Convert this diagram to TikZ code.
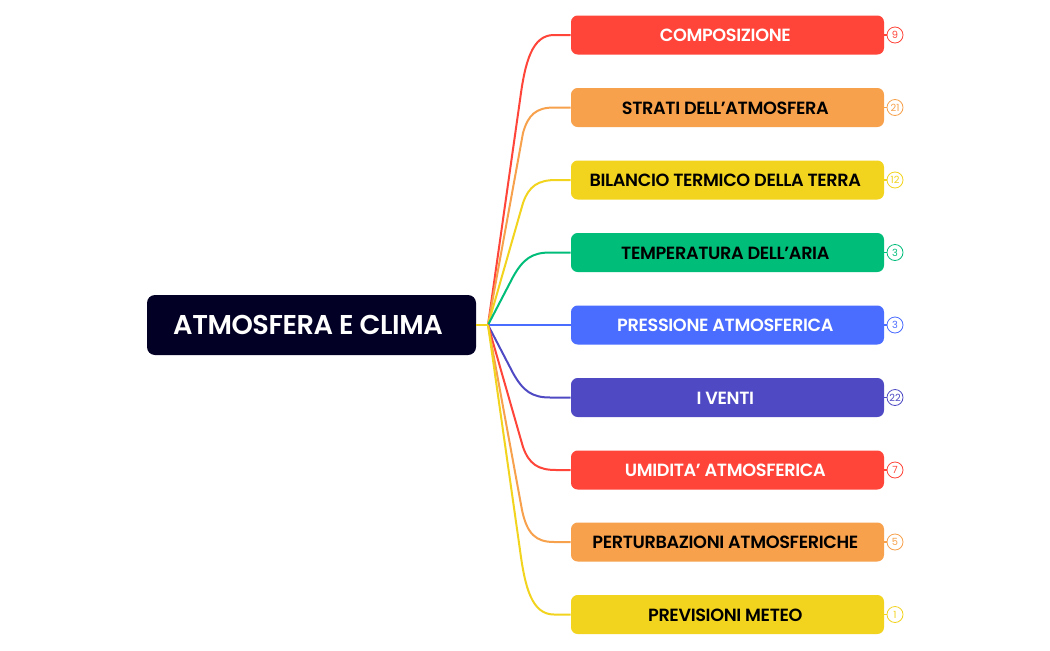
\documentclass[tikz,border=0pt]{standalone}
\usepackage{fontspec}
\setmainfont{Poppins}
\newfontfamily\semi{Poppins SemiBold}[LetterSpace=-2]
\newfontfamily\semiroot{Poppins SemiBold}[LetterSpace=-1.6]
\definecolor{cRed}{HTML}{FF453A}
\definecolor{cOrange}{HTML}{F7A14C}
\definecolor{cYellow}{HTML}{F2D41F}
\definecolor{cGreen}{HTML}{00BD7A}
\definecolor{cBlue}{HTML}{4A6CFF}
\definecolor{cIndigo}{HTML}{4F4AC4}
\definecolor{cDark}{HTML}{020024}
\tikzset{
  x=0.75pt,y=-0.75pt,
  rootbox/.style={fill=cDark,rounded corners=6pt,minimum width=246.75pt,minimum height=45pt,inner sep=0pt},
  topicbox/.style={rounded corners=5pt,minimum width=234.75pt,minimum height=29.25pt,inner sep=0pt},
  badge/.style={draw,circle,fill=white,line width=0.6pt,minimum size=12pt,inner sep=0pt,font=\fontsize{7.4pt}{8pt}\selectfont},
  link/.style={line width=1.5pt},
}
\newcommand{\topic}[6]{% name, y, colour, text colour, label, count
  \node[topicbox,fill=#3] (#1) at (727.5,#2) {};
  \node[text=#4,inner sep=0pt,anchor=center,font=\semi\fontsize{13.25pt}{15pt}\selectfont] (#1t) at (725.3,#2+0.5) {#5};
  \node[badge,draw=#3,text=#3] (#1c) at (895,#2) {#6};
  \draw[#3,line width=1pt] (#1.east) -- (#1c.west);
}
\begin{document}
\begin{tikzpicture}
\useasboundingbox (0,0) rectangle (1050,650);
\fill[white] (0,0) rectangle (1050,650);
\node[rootbox] (root) at (311.5,325) {};
\node[text=white,inner sep=0pt,font=\semiroot\fontsize{20.4pt}{22pt}\selectfont] (roott) at (308,325) {ATMOSFERA E CLIMA};
\coordinate (hub) at (488,325);
\topic{a}{35}{cRed}{white}{COMPOSIZIONE}{9}
\topic{b}{107.5}{cOrange}{black}{STRATI DELL’ATMOSFERA}{21}
\topic{c}{180}{cYellow}{black}{BILANCIO TERMICO DELLA TERRA}{12}
\topic{d}{252.5}{cGreen}{black}{TEMPERATURA DELL’ARIA}{3}
\topic{e}{325}{cBlue}{white}{PRESSIONE ATMOSFERICA}{3}
\topic{f}{397.5}{cIndigo}{white}{I VENTI}{22}
\topic{g}{470}{cRed}{white}{UMIDITA’ ATMOSFERICA}{7}
\topic{h}{542}{cOrange}{black}{PERTURBAZIONI ATMOSFERICHE}{5}
\topic{i}{614.5}{cYellow}{black}{PREVISIONI METEO}{1}
\draw[cRed,link] (hub) -- (520,100) .. controls (525,62) and (532,35) .. (554,35) -- (a.west);
\draw[cOrange,link] (hub) -- (523,133) .. controls (528,115) and (536,107.5) .. (554,107.5) -- (b.west);
\draw[cYellow,link] (hub) -- (523,203) .. controls (529,186) and (538,180) .. (556,180) -- (c.west);
\draw[cGreen,link] (hub) -- (513,277) .. controls (523,259) and (532,252.5) .. (550,252.5) -- (d.west);
\draw[cBlue,link] (hub) -- (e.west);
\draw[cIndigo,link] (hub) -- (513,373) .. controls (523,391) and (532,397.5) .. (550,397.5) -- (f.west);
\draw[cRed,link] (hub) -- (523,447) .. controls (529,464) and (538,470) .. (556,470) -- (g.west);
\draw[cOrange,link] (hub) -- (522,510) .. controls (527,534) and (536,542) .. (554,542) -- (h.west);
\draw[cYellow,link] (hub) -- (520,550) .. controls (525,588) and (532,614.5) .. (554,614.5) -- (i.west);
\draw[cYellow,line width=2pt] (root.east) -- (hub);
\end{tikzpicture}
\end{document}
